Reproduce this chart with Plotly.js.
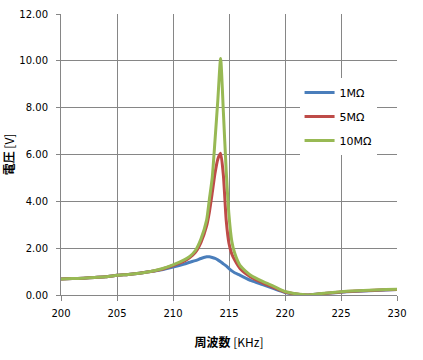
<!DOCTYPE html>
<html><head><meta charset="utf-8">
<script src="https://cdn.plot.ly/plotly-3.0.1.min.js"></script>
<style>html,body{margin:0;padding:0;background:#fff}#c{width:423px;height:360px}</style>
</head><body><div id="c"></div>
<script>
const freq = [200,201,202,203,204,205,206,207,208,209,210,211,211.5,212,212.5,213,213.25,213.5,213.75,214,214.25,214.5,214.75,215,215.25,215.5,216,217,218,219,220,221,222,223,224,225,226,227,228,229,230];
const v1M  = [0.68,0.70,0.72,0.75,0.78,0.84,0.88,0.93,1.00,1.08,1.19,1.32,1.40,1.47,1.56,1.63,1.63,1.60,1.56,1.50,1.42,1.33,1.24,1.13,1.03,0.95,0.84,0.61,0.44,0.27,0.11,0.03,0.00,0.04,0.08,0.12,0.15,0.17,0.19,0.21,0.23];
const v5M  = [0.68,0.70,0.72,0.75,0.78,0.84,0.88,0.93,1.00,1.10,1.26,1.45,1.60,1.82,2.25,2.95,3.55,4.35,5.20,5.80,6.05,5.10,3.20,2.20,1.75,1.50,1.12,0.75,0.52,0.32,0.13,0.04,0.00,0.04,0.09,0.13,0.16,0.18,0.20,0.22,0.24];
const v10M = [0.68,0.70,0.72,0.75,0.78,0.84,0.88,0.93,1.00,1.12,1.29,1.50,1.65,1.90,2.40,3.20,4.10,5.00,6.60,8.30,10.10,7.80,5.30,3.40,2.30,1.80,1.25,0.82,0.58,0.37,0.15,0.05,0.00,0.05,0.10,0.14,0.17,0.19,0.21,0.23,0.25];
const names = ['1MΩ','5MΩ','10MΩ'];
const colors = ['#4A7EBB','#BE4B48','#98B954'];
const series = [v1M, v5M, v10M];

const traces = series.map((v,i)=>({
  x: freq, y: v, type:'scatter', mode:'lines', name: names[i],
  legendgroup: 'g'+i,
  line:{color:colors[i], width:3, shape:'spline', smoothing:0.6}
}));

const grid = '#868686';
const layout = {
  width:423, height:360,
  margin:{l:61, r:26, t:14, b:65},
  paper_bgcolor:'#fff', plot_bgcolor:'#fff',
  font:{family:'"DejaVu Sans", Verdana, sans-serif', size:10, color:'#000'},
  showlegend:true,
  legend:{x:0.71, y:0.772, xanchor:'left', yanchor:'top', bgcolor:'#fff',
    font:{size:11, family:'"DejaVu Sans", Verdana, sans-serif'}, tracegroupgap:5, itemwidth:30},
  xaxis:{range:[200,230], dtick:5, tick0:200, showgrid:true, gridcolor:grid, gridwidth:1,
    showline:true, linecolor:grid, ticks:'outside', ticklen:5, tickcolor:grid, zeroline:false,
    ticklabelstandoff:4,
    title:{text:'<b>周波数</b> [KHz]', font:{family:'"Noto Sans CJK JP", sans-serif', size:12}, standoff:20}},
  yaxis:{range:[0,12], dtick:2, tickformat:'.2f', showgrid:true, gridcolor:grid, gridwidth:1,
    showline:true, linecolor:grid, ticks:'outside', ticklen:4, tickcolor:grid, zeroline:false,
    ticklabelstandoff:6,
    title:{text:'<b>電圧</b> [V]', font:{family:'"Noto Sans CJK JP", sans-serif', size:12}, standoff:2}}
};
Plotly.newPlot('c', traces, layout, {staticPlot:true, displayModeBar:false});
</script></body></html>
